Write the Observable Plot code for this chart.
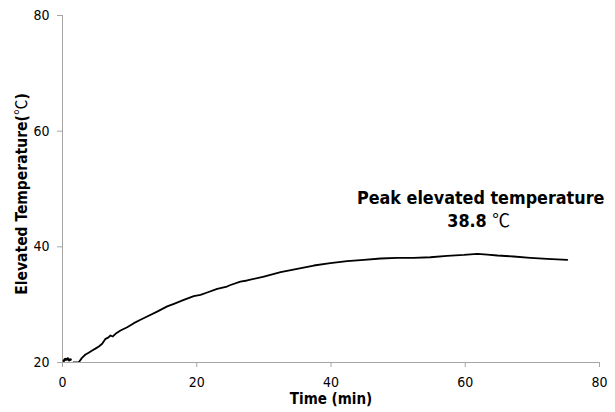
<!DOCTYPE html>
<html>
<head>
<meta charset="utf-8">
<script src="https://cdn.jsdelivr.net/npm/d3@7"></script>
<script src="https://cdn.jsdelivr.net/npm/@observablehq/plot@0.6"></script>
<style>
  html, body { margin: 0; padding: 0; background: #fff; }
  svg { display: block; }
</style>
</head>
<body>
<div id="chart"></div>
<script>
// Time (min) and elevated temperature (°C)
const blobTime = [0.2, 0.4, 0.6, 0.8, 1.0, 1.2];
const blobTemp = [20.3, 20.6, 20.5, 20.7, 20.4, 20.5];

const time = [1.6, 2.0, 2.43, 2.9, 3.43, 3.9, 4.42, 4.9, 5.41, 5.91, 6.41, 6.8, 7.15, 7.5, 7.9, 8.64, 9.64, 10.63, 11.62, 12.61, 14.1, 15.6, 16.6, 18.07, 19.56, 20.56, 21.55, 23.05, 24.5, 25.03, 26.5, 27.5, 30.0, 32.5, 34.96, 37.44, 39.9, 42.4, 44.9, 47.4, 49.86, 52.3, 54.8, 57.3, 59.8, 61.8, 63.3, 64.8, 67.2, 69.7, 72.2, 75.2];
const temp = [20.0, 20.0, 20.05, 20.8, 21.38, 21.7, 22.07, 22.4, 22.77, 23.23, 24.09, 24.3, 24.67, 24.5, 24.96, 25.53, 26.1, 26.8, 27.38, 27.95, 28.8, 29.7, 30.15, 30.84, 31.47, 31.7, 32.1, 32.73, 33.14, 33.4, 34.0, 34.18, 34.87, 35.62, 36.2, 36.77, 37.17, 37.52, 37.76, 37.98, 38.1, 38.1, 38.2, 38.44, 38.6, 38.79, 38.67, 38.5, 38.33, 38.1, 37.93, 37.76];

const xTicks = [0, 20, 40, 60, 80];
const yTicks = [20, 40, 60, 80];
const peakTime = 62.3;
const peakTemp = 38.8;
const annotationTitle = "Peak elevated temperature";
const annotationValue = "38.8 \u2103";
const xLabel = "Time (min)";
const yLabel = "Elevated Temperature(\u2103)";

const series = time.map((t, i) => ({t, v: temp[i]}));
const blob = blobTime.map((t, i) => ({t, v: blobTemp[i]}));

const font = "'DejaVu Sans Condensed', 'DejaVu Sans', sans-serif";
const cjkFont = "'Noto Sans CJK KR', 'Noto Sans CJK SC', sans-serif";
const axisColor = "#a6a6a6";

const chart = Plot.plot({
  width: 615,
  height: 412,
  marginLeft: 62,
  marginRight: 16,
  marginTop: 15,
  marginBottom: 50,
  style: {fontFamily: font, fontSize: "14px", color: "#000", background: "#fff", overflow: "visible"},
  x: {domain: [0, 80]},
  y: {domain: [20, 80]},
  marks: [
    Plot.ruleX([0], {y1: 20, y2: 80, stroke: axisColor, strokeWidth: 1}),
    Plot.ruleY([20], {x1: 0, x2: 80, stroke: axisColor, strokeWidth: 1}),
    Plot.axisY(yTicks, {ticks: yTicks, tickSize: 5, tickPadding: 8, stroke: axisColor, fill: "#000", label: null, fontSize: 14}),
    Plot.axisX(xTicks, {ticks: xTicks, tickSize: 5, tickPadding: 10, stroke: axisColor, fill: "#000", label: null, fontSize: 14}),
    Plot.line(blob, {x: "t", y: "v", stroke: "#000", strokeWidth: 2.5, clip: true}),
    Plot.line(series, {x: "t", y: "v", stroke: "#000", strokeWidth: 1.8, clip: true}),
    Plot.text([annotationTitle], {x: peakTime, y: peakTemp, dy: -55, text: d => d, fontWeight: "bold", fontSize: 17.8, fill: "#000"}),
    Plot.text([annotationValue], {x: peakTime, y: peakTemp, dy: -32, dx: -2, text: d => d, fontWeight: "bold", fontSize: 17.8, fill: "#000"}),
    Plot.text([xLabel], {frameAnchor: "bottom", dy: 41, text: d => d, fontWeight: "bold", fontSize: 15, fill: "#000"}),
    Plot.text([yLabel], {frameAnchor: "left", textAnchor: "middle", dx: -40, dy: 5, rotate: -90, text: d => d, fontWeight: "bold", fontSize: 15.5, fill: "#000"})
  ]
});

// render the ℃ sign with a CJK font, as in the reference
d3.select(chart).selectAll("text").each(function () {
  const el = this;
  if (el.childElementCount === 0 && el.textContent.includes("\u2103")) {
    const parts = el.textContent.split("\u2103");
    el.textContent = "";
    parts.forEach((p, i) => {
      if (p) el.appendChild(document.createTextNode(p));
      if (i < parts.length - 1) {
        const ts = document.createElementNS("http://www.w3.org/2000/svg", "tspan");
        ts.setAttribute("font-family", cjkFont);
        ts.setAttribute("font-weight", "normal");
        ts.textContent = "\u2103";
        el.appendChild(ts);
      }
    });
  }
});

document.getElementById("chart").appendChild(chart);
</script>
</body>
</html>
